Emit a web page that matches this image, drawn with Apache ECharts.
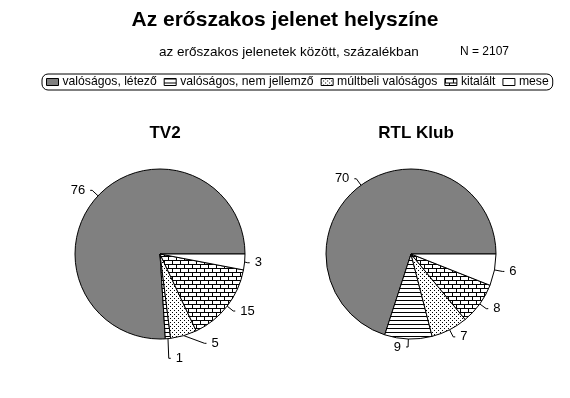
<!DOCTYPE html>
<html>
<head>
<meta charset="utf-8">
<script src="https://cdn.jsdelivr.net/npm/echarts@6/dist/echarts.min.js"></script>
<style>
html, body { margin: 0; padding: 0; background: #fff; }
#chart { width: 570px; height: 398px; }
</style>
</head>
<body>
<div id="chart"></div>
<script>
var categories = ['valóságos, létező', 'valóságos, nem jellemző', 'múltbeli valóságos', 'kitalált', 'mese'];
var tv2Values = [76, 1, 5, 15, 3];
var rtlValues = [70, 9, 7, 8, 6];
var channels = ['TV2', 'RTL Klub'];

// kitöltő minták
function pattern(type) {
	var c = document.createElement('canvas');
	var ctx = c.getContext('2d');
	if (type === 'lines') {
		c.width = 4; c.height = 4;
		ctx.fillStyle = '#fff'; ctx.fillRect(0, 0, 4, 4);
		ctx.fillStyle = '#000'; ctx.fillRect(0, 0, 4, 1);
	} else if (type === 'dots') {
		c.width = 4; c.height = 4;
		ctx.fillStyle = '#fff'; ctx.fillRect(0, 0, 4, 4);
		ctx.fillStyle = '#000'; ctx.fillRect(0, 0, 1, 1); ctx.fillRect(2, 2, 1, 1);
	} else if (type === 'brick') {
		c.width = 8; c.height = 8;
		ctx.fillStyle = '#fff'; ctx.fillRect(0, 0, 8, 8);
		ctx.fillStyle = '#000';
		ctx.fillRect(0, 0, 8, 1); ctx.fillRect(0, 4, 8, 1);
		ctx.fillRect(0, 0, 1, 4); ctx.fillRect(4, 4, 1, 4);
	}
	return { image: c, repeat: 'repeat' };
}

var colors = ['#808080', pattern('lines'), pattern('dots'), pattern('brick'), '#ffffff'];

function pieData(values) {
	return values.map(function (v, i) {
		return { name: categories[i], value: v, itemStyle: { color: colors[i] } };
	});
}

function pieSeries(values, cx) {
	return {
		type: 'pie',
		center: [cx, 254],
		radius: 85,
		startAngle: 0,
		clockwise: false,
		animation: false,
		silent: true,
		data: pieData(values),
		itemStyle: { borderColor: '#000', borderWidth: 1 },
		label: {
			show: true,
			formatter: '{c}',
			color: '#000',
			fontFamily: 'Liberation Sans',
			fontSize: 13
		},
		labelLine: { show: true, length: 8, length2: 2, lineStyle: { color: '#000', width: 1 } }
	};
}

var myChart = echarts.init(document.getElementById('chart'), null, { renderer: 'canvas' });
myChart.setOption({
	backgroundColor: '#fff',
	title: [
		{ text: 'Az erőszakos jelenet helyszíne', left: 'center', top: 5,
			textStyle: { fontFamily: 'Liberation Sans', fontSize: 21, fontWeight: 'bold', color: '#000' } },
		{ text: 'az erőszakos jelenetek között, százalékban', left: 154, top: 40,
			textStyle: { fontFamily: 'Liberation Sans', fontSize: 13.5, fontWeight: 'normal', color: '#000' } },
		{ text: 'N = 2107', left: 455, top: 41,
			textStyle: { fontFamily: 'Liberation Sans', fontSize: 12, fontWeight: 'normal', color: '#000' } },
		{ text: channels[0], left: 160, top: 120, textAlign: 'center',
			textStyle: { fontFamily: 'Liberation Sans', fontSize: 17, fontWeight: 'bold', color: '#000' } },
		{ text: channels[1], left: 411, top: 120, textAlign: 'center',
			textStyle: { fontFamily: 'Liberation Sans', fontSize: 17, fontWeight: 'bold', color: '#000' } }
	],
	legend: {
		left: 42,
		top: 74,
		data: categories,
		itemWidth: 12,
		itemHeight: 7,
		itemGap: 7,
		icon: 'rect',
		padding: [2, 4, 2, 4],
		borderColor: '#000',
		borderWidth: 1,
		borderRadius: 6,
		selectedMode: false,
		itemStyle: { borderColor: '#000', borderWidth: 1 },
		textStyle: { fontFamily: 'Liberation Sans', fontSize: 12.2, color: '#000', padding: [0, 0, 0, -1] }
	},
	series: [pieSeries(tv2Values, 160), pieSeries(rtlValues, 411)]
});
</script>
</body>
</html>
